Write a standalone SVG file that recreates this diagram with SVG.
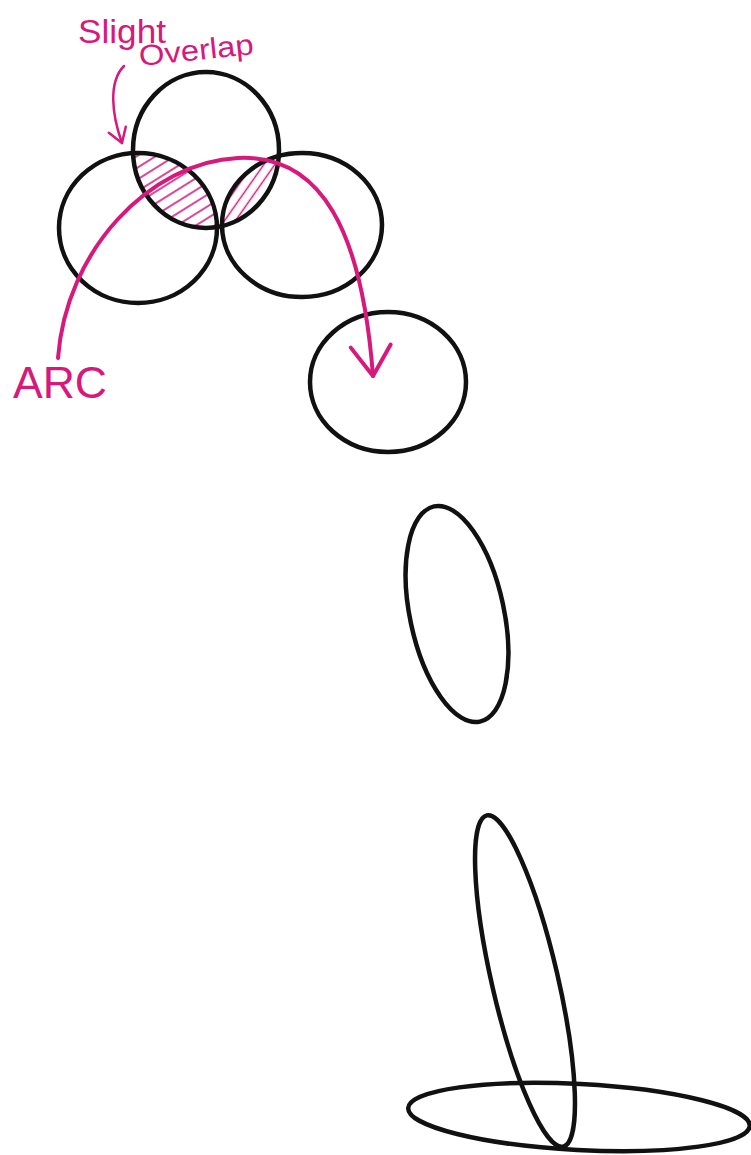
<svg xmlns="http://www.w3.org/2000/svg" width="751" height="1155" viewBox="0 0 751 1155">
<style>
.ink{fill:none;stroke:#111;stroke-width:4.5;stroke-linecap:round;stroke-linejoin:round}
.pink{fill:none;stroke:#d6197b;stroke-linecap:round;stroke-linejoin:round}
.lbl{fill:#d6197b;font-family:"Liberation Sans",Arial,sans-serif}
</style>
<defs>
<marker id="bigV" markerUnits="userSpaceOnUse" markerWidth="50" markerHeight="50" viewBox="-40 -25 45 50" refX="0" refY="0" orient="auto">
<path d="M -30 -20 L 0 0 L -30 20" fill="none" stroke="#d6197b" stroke-width="4" stroke-linecap="round" stroke-linejoin="round"/>
</marker>
<marker id="smallV" markerUnits="userSpaceOnUse" markerWidth="30" markerHeight="30" viewBox="-20 -15 25 30" refX="0" refY="0" orient="auto">
<path d="M -14 -9 L 0 0 L -14 9" fill="none" stroke="#d6197b" stroke-width="2.5" stroke-linecap="round" stroke-linejoin="round"/>
</marker>
<pattern id="hatchA" patternUnits="userSpaceOnUse" width="10" height="10" patternTransform="rotate(-32)">
<line x1="0" y1="5" x2="10" y2="5" stroke="#d6197b" stroke-width="1.6"/>
</pattern>
<pattern id="hatchB" patternUnits="userSpaceOnUse" width="9" height="9" patternTransform="rotate(-55)">
<line x1="0" y1="4.5" x2="9" y2="4.5" stroke="#d6197b" stroke-width="1.5"/>
</pattern>
<clipPath id="clipTop"><ellipse cx="206" cy="150" rx="73" ry="78"/></clipPath>
</defs>
<rect width="751" height="1155" fill="#fff"/>

<g id="hatching">
<g clip-path="url(#clipTop)"><ellipse cx="138" cy="228" rx="79" ry="75" fill="url(#hatchA)"/></g>
<g clip-path="url(#clipTop)"><ellipse cx="302" cy="225" rx="80" ry="72" fill="url(#hatchB)"/></g>
</g>

<g id="node-left"><ellipse class="ink" cx="138" cy="228" rx="79" ry="75"/></g>
<g id="node-top"><ellipse class="ink" cx="206" cy="150" rx="73" ry="78"/></g>
<g id="node-right"><ellipse class="ink" cx="302" cy="225" rx="80" ry="72"/></g>
<g id="node-target"><ellipse class="ink" cx="388" cy="382" rx="78" ry="70"/></g>
<g id="node-ellipse-mid"><ellipse class="ink" cx="457" cy="614" rx="47" ry="110" transform="rotate(-12 457 614)"/></g>
<g id="node-ellipse-tall"><ellipse class="ink" cx="525" cy="981" rx="33" ry="170" transform="rotate(-13 525 981)"/></g>
<g id="node-ellipse-flat"><ellipse class="ink" cx="579" cy="1117" rx="171" ry="33" transform="rotate(3 579 1117)"/></g>

<g id="connectors">
<path class="pink" stroke-width="4" d="M 58 358 C 66 250, 150 162, 238 158 C 322 154, 362 232, 373 376" marker-end="url(#bigV)"/>
<path class="pink" stroke-width="2.5" d="M 124 66 C 108 82, 112 115, 122 143" marker-end="url(#smallV)"/>
</g>

<g id="labels">
<text class="lbl" x="78" y="43" font-size="33" textLength="88" lengthAdjust="spacingAndGlyphs">Slight</text>
<text class="lbl" x="140" y="66" font-size="29" textLength="115" lengthAdjust="spacingAndGlyphs" transform="rotate(-6 140 66)">Overlap</text>
<text class="lbl" x="13" y="398" font-size="45" textLength="94" lengthAdjust="spacingAndGlyphs">ARC</text>
</g>
</svg>
